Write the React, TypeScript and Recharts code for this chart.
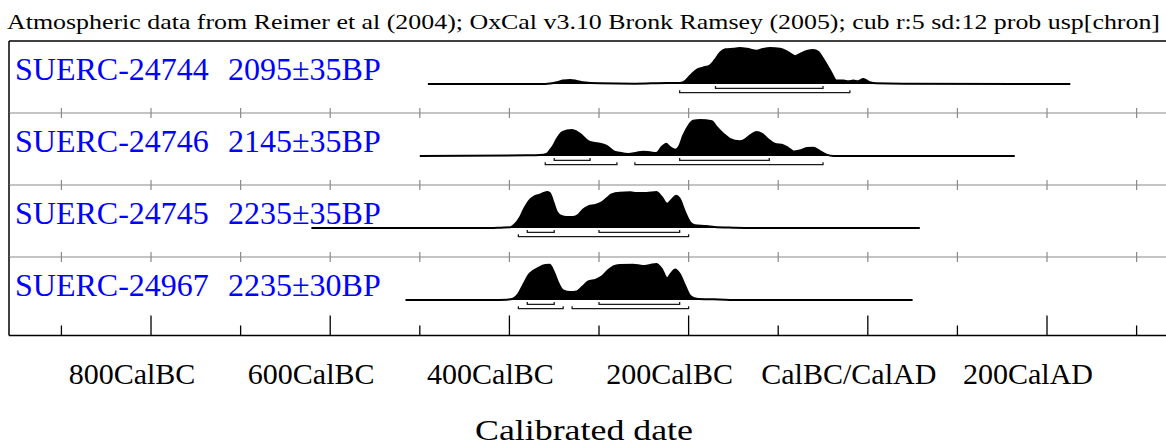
import { ComposedChart, Area, Line, XAxis, YAxis } from 'recharts';

const SERIF = "'Liberation Serif', 'Times New Roman', serif";

const titleText =
  'Atmospheric data from Reimer et al (2004); OxCal v3.10 Bronk Ramsey (2005); cub r:5 sd:12 prob usp[chron]';
const axisTitle = 'Calibrated date';

const sampleNames = ['SUERC-24744', 'SUERC-24746', 'SUERC-24745', 'SUERC-24967'];
const sampleDates = ['2095±35BP', '2145±35BP', '2235±35BP', '2235±30BP'];

// calendar years, negative = BC
const tickYears = [-900, -800, -700, -600, -500, -400, -300, -200, -100, 0, 100, 200, 300];
const labelYears = [-800, -600, -400, -200, 0, 200];
const labelTexts = ['800CalBC', '600CalBC', '400CalBC', '200CalBC', 'CalBC/CalAD', '200CalAD'];

// SUERC-24744
const r1Years = [-491, -360, -347, -340, -332, -325, -318, -299, -260, -224, -210, -206, -198, -191, -184, -176, -171, -165, -159, -150, -143, -135, -124, -117, -109, -98, -89, -81, -76, -68, -61, -55, -50, -42, -35, -27, -22, -16, -11, -5, 2, 10, 40, 226];
const r1Prob = [0, 0, 5, 10, 12, 9, 5, 2, 1, 3, 3, 5, 25, 42, 48, 55, 70, 92, 102, 104, 106, 104, 98, 103, 106, 104, 94, 82, 88, 97, 100, 94, 75, 40, 10, 10, 8, 10, 8, 15, 5, 2, 1, 0];
const r1Range68 = [[-170, -50]];
const r1Range95 = [[-210, -20]];

// SUERC-24746
const r2Years = [-500, -381, -362, -358, -355, -351, -347, -342, -336, -330, -325, -319, -312, -306, -299, -291, -284, -277, -267, -258, -251, -243, -236, -230, -225, -221, -215, -211, -206, -200, -195, -187, -174, -169, -161, -154, -143, -139, -131, -124, -118, -111, -104, -94, -89, -83, -76, -68, -61, -53, -46, -38, 164];
const r2Prob = [0, 2, 4, 7, 17, 32, 52, 70, 77, 79, 74, 62, 45, 40, 37, 30, 15, 10, 6, 10, 13, 11, 9, 27, 37, 27, 19, 27, 62, 92, 107, 109, 105, 89, 67, 52, 45, 47, 63, 73, 67, 50, 37, 32, 25, 14, 17, 24, 25, 14, 4, 0, 0];
const r2Range68 = [[-350, -310], [-210, -110]];
const r2Range95 = [[-360, -280], [-260, -50]];

// SUERC-24745
const r3Years = [-621, -420, -410, -399, -394, -388, -383, -377, -372, -366, -358, -355, -351, -347, -342, -336, -329, -323, -318, -312, -304, -297, -291, -286, -277, -265, -258, -247, -236, -230, -224, -219, -214, -210, -204, -198, -193, -180, -171, -150, -131, 58];
const r3Prob = [0, 0, 1, 2, 11, 33, 61, 85, 95, 100, 108, 105, 78, 48, 36, 33, 33, 40, 55, 65, 69, 77, 90, 101, 106, 107, 105, 105, 108, 93, 73, 85, 97, 88, 48, 16, 8, 6, 3, 1, 0, 0];
const r3Range68 = [[-380, -350], [-300, -210]];
const r3Range95 = [[-390, -200]];

// SUERC-24967
const r4Years = [-516, -420, -403, -396, -390, -384, -379, -373, -368, -360, -355, -351, -345, -340, -332, -325, -319, -312, -304, -297, -291, -284, -277, -262, -251, -243, -236, -230, -224, -220, -215, -210, -204, -198, -191, -172, -154, 50];
const r4Prob = [0, 0, 1, 4, 19, 49, 74, 89, 97, 106, 107, 89, 49, 29, 24, 26, 39, 56, 61, 71, 87, 102, 106, 107, 103, 106, 109, 94, 66, 79, 92, 79, 44, 12, 4, 2, 0, 0];
const r4Range68 = [[-380, -350], [-300, -210]];
const r4Range95 = [[-390, -340], [-330, -200]];

const rows = [
  { years: r1Years, prob: r1Prob, r68: r1Range68, r95: r1Range95 },
  { years: r2Years, prob: r2Prob, r68: r2Range68, r95: r2Range95 },
  { years: r3Years, prob: r3Prob, r68: r3Range68, r95: r3Range95 },
  { years: r4Years, prob: r4Prob, r68: r4Range68, r95: r4Range95 },
];

// layout
const WIDTH = 1166;
const HEIGHT = 446;
const PLOT_LEFT = 9;
const X_DOMAIN = [-958.5, 332.8];
const ROW_TOPS = [40.5, 112.5, 184.5, 256.5];
const AXIS_Y = 335;
const AXIS_H = HEIGHT - AXIS_Y;
const BASE_DROP = 43; // px from row top to distribution baseline
const PEAK_PX = 36; // height of tallest peak
const PAD = 6;

const CrossTick = (props: any) => {
  const { x, y } = props;
  return <line x1={x} x2={x} y1={y - 5} y2={y + 5} stroke="#8a8a8a" strokeWidth={1.2} />;
};

const CalTick = (props: any) => {
  const { x, y, payload } = props;
  const k = labelYears.indexOf(payload.value);
  return (
    <g>
      <line x1={x} x2={x} y1={y} y2={y - (k >= 0 ? 20 : 10)} stroke="#000" strokeWidth={1.3} />
      {k >= 0 && (
        <text x={x - 19} y={y + 48} textAnchor="middle" fontFamily={SERIF} fontSize={30} fill="#000">
          {labelTexts[k]}
        </text>
      )}
    </g>
  );
};

const AxisTitle = (props: any) => {
  const vb = props.viewBox || { x: PLOT_LEFT, y: AXIS_Y, width: WIDTH - PLOT_LEFT, height: AXIS_H };
  return (
    <text
      x={vb.x + vb.width / 2 - 3.5}
      y={vb.y + 104}
      textAnchor="middle"
      fontFamily={SERIF}
      fontSize={30}
      textLength={218}
      lengthAdjust="spacingAndGlyphs"
      fill="#000"
    >
      {axisTitle}
    </text>
  );
};

function Row({ i }: { i: number }) {
  const row = rows[i];
  const top = ROW_TOPS[i];
  const last = i === rows.length - 1;
  const bottom = last ? AXIS_Y : ROW_TOPS[i + 1];
  const plotH = bottom - top;
  const unit = Math.max(...row.prob) / PEAK_PX;
  const yDomain = [-(plotH - BASE_DROP) * unit, BASE_DROP * unit];
  const areaData = row.years.map((year, k) => ({ year, p: row.prob[k] }));

  const bracket = (r: number[], level: number, tip: number) => [
    { year: r[0], v: -tip * unit },
    { year: r[0], v: -level * unit },
    { year: r[1], v: -level * unit },
    { year: r[1], v: -tip * unit },
  ];
  const brackets = [
    ...row.r68.map((r) => bracket(r, 4.3, 2)),
    ...row.r95.map((r) => bracket(r, 8.7, 6.2)),
  ];

  return (
    <div style={{ position: 'absolute', left: 0, top: top - PAD }}>
      <ComposedChart
        width={WIDTH}
        height={PAD + plotH + (last ? AXIS_H : 0)}
        margin={{ top: PAD - 1, right: 0, bottom: 0, left: PLOT_LEFT - 1 }}
      >
        <XAxis
          xAxisId="sep"
          orientation="top"
          type="number"
          dataKey="year"
          domain={X_DOMAIN}
          allowDataOverflow
          ticks={tickYears}
          interval={0}
          height={1}
          tickSize={0}
          tickMargin={0}
          tickLine={false}
          axisLine={{ stroke: i === 0 ? '#000' : '#8a8a8a', strokeWidth: i === 0 ? 1.5 : 1.2 }}
          tick={i === 0 ? false : CrossTick}
        />
        {last && (
          <XAxis
            xAxisId="cal"
            orientation="bottom"
            type="number"
            dataKey="year"
            domain={X_DOMAIN}
            allowDataOverflow
            ticks={tickYears}
            interval={0}
            height={AXIS_H}
            tickSize={0}
            tickMargin={0}
            tickLine={false}
            axisLine={{ stroke: '#000', strokeWidth: 1.5 }}
            tick={CalTick}
            label={{ content: AxisTitle }}
          />
        )}
        <YAxis
          type="number"
          domain={yDomain}
          allowDataOverflow
          width={1}
          tick={false}
          tickLine={false}
          axisLine={{ stroke: '#000', strokeWidth: 1.5 }}
        />
        <Area
          xAxisId="sep"
          data={areaData}
          dataKey="p"
          type="monotone"
          baseValue={0}
          fill="#000"
          fillOpacity={1}
          stroke="#000"
          strokeWidth={2}
          dot={false}
          activeDot={false}
          isAnimationActive={false}
        />
        {brackets.map((b, k) => (
          <Line
            key={k}
            xAxisId="sep"
            data={b}
            dataKey="v"
            type="linear"
            stroke="#1a1a1a"
            strokeWidth={1.3}
            dot={false}
            activeDot={false}
            isAnimationActive={false}
          />
        ))}
      </ComposedChart>
    </div>
  );
}

export default function App() {
  return (
    <div style={{ position: 'absolute', left: 0, top: 0, width: WIDTH, height: HEIGHT, background: '#fff', overflow: 'hidden' }}>
      {rows.map((_, i) => (
        <Row key={i} i={i} />
      ))}
      <svg width={WIDTH} height={HEIGHT} style={{ position: 'absolute', left: 0, top: 0, pointerEvents: 'none' }}>
        <text x={7} y={28.5} fontFamily={SERIF} fontSize={22} textLength={1153} lengthAdjust="spacingAndGlyphs" fill="#000">
          {titleText}
        </text>
        {sampleNames.map((name, i) => (
          <g key={name}>
            <text x={15} y={ROW_TOPS[i] + 39} fontFamily={SERIF} fontSize={32} fill="#0000ff">
              {name}
            </text>
            <text x={228} y={ROW_TOPS[i] + 39} fontFamily={SERIF} fontSize={32} fill="#0000ff">
              {sampleDates[i]}
            </text>
          </g>
        ))}
      </svg>
    </div>
  );
}
